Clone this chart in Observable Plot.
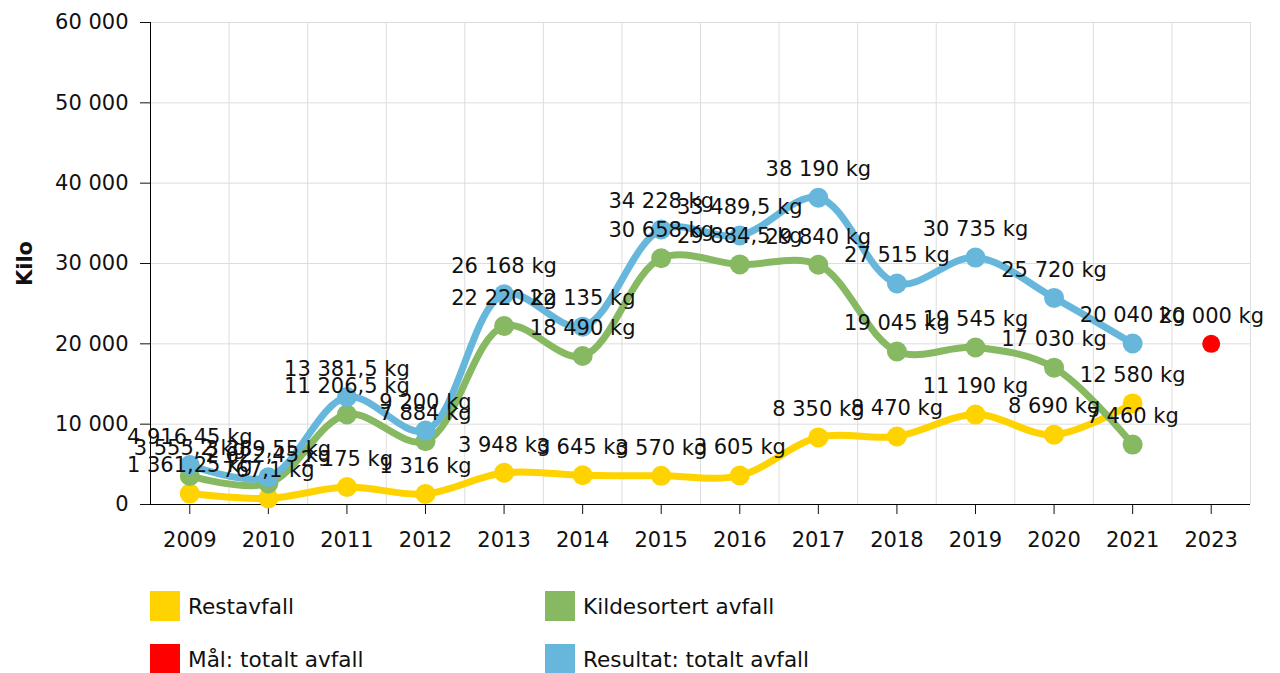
<!DOCTYPE html>
<html>
<head>
<meta charset="utf-8">
<script src="https://cdn.jsdelivr.net/npm/d3@7"></script>
<script src="https://cdn.jsdelivr.net/npm/@observablehq/plot@0.6"></script>
<style>
  body { margin: 0; background: #fff; font-family: "DejaVu Sans", Verdana, sans-serif; }
  #chart svg { display: block; }
  .legend { position: relative; height: 113px; font-size: 21.6px; color: #111; }
  .item { position: absolute; display: flex; align-items: center; }
  .sw { width: 30px; height: 30px; margin-right: 8px; }
</style>
</head>
<body>
<div id="chart"></div>
<div class="legend" id="legend"></div>
<script>
const years = ["2009","2010","2011","2012","2013","2014","2015","2016","2017","2018","2019","2020","2021"];
const restavfall = [1361.25, 767.1, 2175, 1316, 3948, 3645, 3570, 3605, 8350, 8470, 11190, 8690, 12580];
const kildesortert = [3555.2, 2622.45, 11206.5, 7884, 22220, 18490, 30658, 29884.5, 29840, 19045, 19545, 17030, 7460];
const resultat = [4916.45, 3389.55, 13381.5, 9200, 26168, 22135, 34228, 33489.5, 38190, 27515, 30735, 25720, 20040];
const malYears = ["2023"];
const malValues = [20000];
const xDomain = [...years, ...malYears];
const yTicks = [0, 10000, 20000, 30000, 40000, 50000, 60000];

const seriesNames = ["Restavfall", "Kildesortert avfall", "Mål: totalt avfall", "Resultat: totalt avfall"];
const seriesColors = ["#ffd300", "#87b862", "#ff0000", "#67b7dc"];

const locale = d3.formatLocale({decimal: ",", thousands: "\u00a0", grouping: [3], currency: ["", " kr"]});
const fmt = locale.format(",");

const toRows = (vals, yrs) => vals.map((v, i) => ({year: yrs[i], value: v}));
const rest = toRows(restavfall, years);
const kilde = toRows(kildesortert, years);
const total = toRows(resultat, years);
const mal = toRows(malValues, malYears);

const W = 1280, H = 560, ML = 150, MR = 30, MT = 22, MB = 56;
const step = (W - ML - MR) / xDomain.length;
const FS = 21;

const lineSeries = [[rest, seriesColors[0]], [kilde, seriesColors[1]], [total, seriesColors[3]]];
const marks = [
  Plot.gridY({ticks: yTicks, stroke: "#dddddd", strokeOpacity: 1}),
  Plot.ruleX(xDomain, {x: d => d, dx: -step / 2, stroke: "#dddddd"}),
  Plot.ruleX(xDomain.slice(-1), {x: d => d, dx: step / 2, stroke: "#dddddd"}),
  Plot.axisY({ticks: yTicks, tickFormat: fmt, tickSize: 10, tickPadding: 12, label: null, fontSize: FS}),
  Plot.axisX({tickSize: 10, tickPadding: 18, label: null, fontSize: FS}),
  Plot.ruleY([0], {stroke: "#000"}),
  Plot.ruleX(xDomain.slice(0, 1), {x: d => d, dx: -step / 2, stroke: "#000"}),
];
for (const [data, color] of lineSeries) {
  marks.push(Plot.line(data, {x: "year", y: "value", stroke: color, strokeWidth: 7, curve: "catmull-rom"}));
  marks.push(Plot.dot(data, {x: "year", y: "value", fill: color, r: 10}));
}
marks.push(Plot.dot(mal, {x: "year", y: "value", fill: seriesColors[2], r: 9}));
for (const data of [rest, kilde, total, mal]) {
  marks.push(Plot.text(data, {x: "year", y: "value", text: d => fmt(d.value) + " kg", dy: -28, fontSize: FS, fill: "#111"}));
}
marks.push(Plot.text(["Kilo"], {frameAnchor: "left", textAnchor: "middle", dx: -125, rotate: -90, text: d => d, fontSize: 21, fontWeight: "bold", fill: "#111"}));

const chart = Plot.plot({
  width: W, height: H,
  marginLeft: ML, marginRight: MR, marginTop: MT, marginBottom: MB,
  style: {fontFamily: "'DejaVu Sans', Verdana, sans-serif", fontSize: FS + "px", color: "#111", background: "#fff"},
  x: {type: "point", domain: xDomain, padding: 0.5, round: false, axis: null},
  y: {domain: [0, 60000], axis: null},
  marks
});
document.getElementById("chart").appendChild(chart);

const legend = document.getElementById("legend");
const pos = [[150, 31], [545, 31], [150, 84], [545, 84]];
[0, 1, 2, 3].forEach((k, i) => {
  const it = document.createElement("div");
  it.className = "item";
  it.style.left = pos[i][0] + "px";
  it.style.top = pos[i][1] + "px";
  const sw = document.createElement("div");
  sw.className = "sw";
  sw.style.background = seriesColors[k];
  const tx = document.createElement("span");
  tx.textContent = seriesNames[k];
  it.appendChild(sw); it.appendChild(tx);
  legend.appendChild(it);
});
</script>
</body>
</html>
